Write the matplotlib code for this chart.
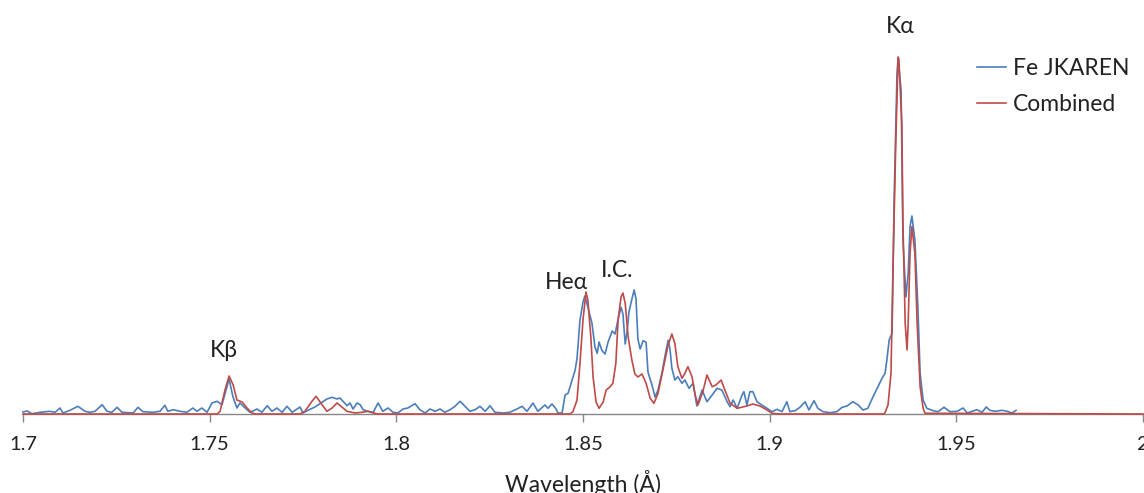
import matplotlib
matplotlib.use("Agg")
import matplotlib.pyplot as plt

plt.rcParams['font.family'] = ['Lato', 'Open Sans', 'DejaVu Sans']

# Fe JKAREN measured spectrum (wavelength in Å, intensity in arbitrary units)
fe_wavelength = [
    1.7000, 1.7011, 1.7024, 1.7046, 1.7072, 1.7086, 1.7099, 1.7107, 1.7126, 1.7147,
    1.7166, 1.7179, 1.7193, 1.7212, 1.7225, 1.7238, 1.7252, 1.7265, 1.7295, 1.7308,
    1.7321, 1.7348, 1.7367, 1.7380, 1.7388, 1.7402, 1.7421, 1.7439, 1.7455, 1.7466,
    1.7479, 1.7493, 1.7506, 1.7520, 1.7533, 1.7544, 1.7552, 1.7562, 1.7573, 1.7581,
    1.7595, 1.7608, 1.7627, 1.7640, 1.7654, 1.7667, 1.7680, 1.7694, 1.7707, 1.7721,
    1.7742, 1.7750, 1.7763, 1.7782, 1.7801, 1.7814, 1.7828, 1.7841, 1.7849, 1.7857,
    1.7868, 1.7876, 1.7884, 1.7895, 1.7903, 1.7911, 1.7924, 1.7938, 1.7951, 1.7964,
    1.7978, 1.7991, 1.8004, 1.8018, 1.8031, 1.8050, 1.8063, 1.8077, 1.8090, 1.8104,
    1.8117, 1.8130, 1.8144, 1.8157, 1.8171, 1.8184, 1.8197, 1.8211, 1.8224, 1.8238,
    1.8251, 1.8264, 1.8286, 1.8304, 1.8323, 1.8337, 1.8350, 1.8366, 1.8379, 1.8398,
    1.8406, 1.8417, 1.8428, 1.8433, 1.8444, 1.8452, 1.8460, 1.8471, 1.8479, 1.8484,
    1.8492, 1.8500, 1.8505, 1.8513, 1.8524, 1.8532, 1.8538, 1.8543, 1.8551, 1.8559,
    1.8567, 1.8578, 1.8586, 1.8594, 1.8602, 1.8607, 1.8613, 1.8618, 1.8623, 1.8631,
    1.8637, 1.8642, 1.8647, 1.8653, 1.8661, 1.8669, 1.8674, 1.8685, 1.8693, 1.8701,
    1.8712, 1.8720, 1.8728, 1.8733, 1.8738, 1.8746, 1.8754, 1.8765, 1.8773, 1.8784,
    1.8795, 1.8805, 1.8819, 1.8832, 1.8846, 1.8859, 1.8872, 1.8886, 1.8894, 1.8902,
    1.8913, 1.8926, 1.8931, 1.8939, 1.8947, 1.8955, 1.8966, 1.8979, 1.8993, 1.9006,
    1.9020, 1.9033, 1.9046, 1.9054, 1.9068, 1.9081, 1.9095, 1.9105, 1.9119, 1.9129,
    1.9143, 1.9162, 1.9180, 1.9194, 1.9207, 1.9223, 1.9237, 1.9250, 1.9263, 1.9277,
    1.9290, 1.9301, 1.9309, 1.9314, 1.9320, 1.9328, 1.9333, 1.9341, 1.9344, 1.9352,
    1.9357, 1.9365, 1.9371, 1.9376, 1.9381, 1.9389, 1.9397, 1.9403, 1.9411, 1.9421,
    1.9438, 1.9451, 1.9467, 1.9483, 1.9502, 1.9518, 1.9529, 1.9542, 1.9555, 1.9569,
    1.9580, 1.9590, 1.9604, 1.9622, 1.9636, 1.9649, 1.9660,
]
fe_intensity = [
    2.0, 3.0, 0.3, 1.7, 2.7, 1.7, 6.0, 1.0, 3.7, 7.7,
    2.7, 1.7, 2.7, 9.3, 2.7, 1.7, 6.7, 1.7, 1.0, 6.7,
    2.3, 1.7, 2.7, 8.7, 2.7, 4.3, 2.7, 1.7, 6.0, 2.7,
    6.0, 1.7, 11.0, 12.7, 9.3, 24.0, 35.0, 17.7, 6.0, 11.0,
    6.0, 1.7, 5.0, 1.7, 8.3, 2.7, 6.0, 1.7, 7.7, 1.7,
    7.0, 1.0, 3.7, 7.0, 11.7, 15.0, 16.7, 15.0, 16.0, 12.7,
    8.3, 11.0, 5.0, 11.0, 9.3, 4.3, 2.7, 1.7, 11.0, 2.7,
    6.0, 1.7, 1.0, 5.0, 6.0, 10.3, 4.3, 1.0, 5.0, 2.7,
    5.0, 1.7, 4.3, 7.7, 12.7, 7.7, 2.7, 4.3, 7.7, 2.7,
    8.3, 1.7, 1.0, 1.7, 5.0, 7.7, 2.7, 11.0, 2.7, 9.0,
    5.7, 10.0, 5.0, 1.0, 1.0, 19.0, 20.7, 34.0, 44.0, 55.7,
    94.0, 112.0, 118.0, 107.0, 90.7, 67.0, 60.7, 72.0, 63.3, 60.0,
    71.7, 83.0, 80.0, 95.0, 106.7, 100.0, 70.0, 82.0, 102.0, 115.0,
    124.0, 115.0, 75.0, 65.0, 73.3, 71.7, 42.0, 28.7, 17.0, 24.0,
    42.0, 58.7, 73.7, 65.0, 46.0, 34.0, 37.3, 30.7, 34.0, 25.7,
    30.7, 8.0, 24.0, 12.3, 19.0, 25.7, 24.0, 12.3, 7.3, 14.0,
    5.7, 19.0, 22.3, 9.0, 22.3, 22.3, 12.3, 9.0, 5.7, 2.3,
    4.7, 2.3, 12.3, 2.3, 3.3, 6.7, 12.3, 4.0, 13.3, 5.7,
    2.3, 1.3, 2.3, 6.7, 8.0, 12.3, 9.0, 4.0, 5.7, 17.3,
    27.3, 35.7, 40.7, 54.0, 74.0, 80.7, 207.0, 340.0, 356.0, 324.0,
    174.0, 117.0, 140.7, 187.3, 198.0, 174.0, 107.0, 40.7, 14.0, 5.7,
    3.3, 2.3, 6.7, 2.3, 2.7, 6.0, 1.0, 2.7, 4.3, 1.7,
    7.0, 3.7, 2.7, 3.7, 2.7, 1.0, 3.7,
]

# Combined model spectrum
combined_wavelength = [
    1.7000, 1.7520, 1.7528, 1.7541, 1.7552, 1.7563, 1.7573, 1.7587, 1.7600, 1.7613,
    1.7624, 1.7742, 1.7755, 1.7774, 1.7785, 1.7801, 1.7814, 1.7828, 1.7841, 1.7854,
    1.7868, 1.7889, 1.7908, 1.7924, 1.7938, 1.7951, 1.8465, 1.8473, 1.8484, 1.8492,
    1.8500, 1.8508, 1.8513, 1.8521, 1.8527, 1.8535, 1.8543, 1.8554, 1.8562, 1.8572,
    1.8580, 1.8588, 1.8594, 1.8602, 1.8607, 1.8613, 1.8621, 1.8631, 1.8639, 1.8647,
    1.8658, 1.8669, 1.8680, 1.8690, 1.8701, 1.8714, 1.8728, 1.8738, 1.8746, 1.8754,
    1.8765, 1.8773, 1.8781, 1.8792, 1.8800, 1.8808, 1.8821, 1.8832, 1.8846, 1.8856,
    1.8870, 1.8880, 1.8894, 1.8913, 1.8939, 1.8955, 1.8974, 1.8993, 1.9006, 1.9028,
    1.9306, 1.9309, 1.9317, 1.9325, 1.9330, 1.9338, 1.9344, 1.9346, 1.9354, 1.9357,
    1.9363, 1.9368, 1.9371, 1.9376, 1.9381, 1.9389, 1.9395, 1.9403, 1.9411, 1.9416,
    2.0000,
]
combined_intensity = [
    0.0, 0.0, 2.7, 24.0, 38.0, 29.0, 14.0, 12.0, 6.0, 1.0,
    0.0, 0.0, 2.7, 12.7, 17.7, 9.3, 2.7, 6.0, 11.0, 7.0,
    2.7, 1.0, 1.7, 2.7, 1.0, 0.0, 0.0, 2.3, 14.0, 51.0,
    94.0, 122.0, 114.0, 77.0, 37.0, 12.0, 5.7, 12.0, 24.0, 27.0,
    30.7, 50.7, 94.0, 117.3, 121.0, 110.7, 77.0, 53.7, 40.0, 37.0,
    40.0, 30.7, 15.7, 10.7, 20.7, 44.0, 69.0, 80.0, 70.7, 47.3,
    35.7, 40.7, 47.3, 37.3, 19.7, 9.0, 22.3, 39.0, 27.3, 29.0,
    34.0, 24.0, 10.7, 5.7, 8.0, 10.0, 8.0, 4.0, 0.7, 0.0,
    0.0, 1.3, 9.0, 40.7, 140.7, 274.0, 357.0, 355.0, 291.0, 190.7,
    90.7, 64.0, 90.7, 160.7, 187.3, 160.7, 90.7, 27.3, 5.7, 0.7,
    0.0,
]

tick_values = [1.7, 1.75, 1.8, 1.85, 1.9, 1.95, 2.0]
tick_labels = ["1.7", "1.75", "1.8", "1.85", "1.9", "1.95", "2"]

# Line identifications: (label, wavelength, height of text baseline)
line_labels = ["Kβ", "Heα", "I.C.", "Kα"]
line_label_wl = [1.7538, 1.8456, 1.8591, 1.9349]
line_label_y = [57, 125, 137, 381]

blue = "#4A7EBB"
red = "#BE4B48"
axis_gray = "#868686"

fig = plt.figure(figsize=(11.44, 4.93), dpi=100)
ax = fig.add_axes([23 / 1144, 79 / 493, 1120 / 1144, 414 / 493])

ax.plot(fe_wavelength, fe_intensity, color=blue, lw=1.2, label="Fe JKAREN",
        clip_on=False, zorder=3)
ax.plot(combined_wavelength, combined_intensity, color=red, lw=1.2, label="Combined",
        clip_on=False, zorder=4)

ax.set_xlim(1.7, 2.0)
ax.set_ylim(0, 414)

for s in ("left", "right", "top"):
    ax.spines[s].set_visible(False)
ax.spines["bottom"].set_color(axis_gray)
ax.spines["bottom"].set_linewidth(1.0)
ax.set_yticks([])
ax.set_xticks(tick_values)
ax.set_xticklabels(tick_labels)
ax.tick_params(axis="x", direction="out", length=6, width=1.0, color=axis_gray,
               labelsize=14.5, labelcolor="#222222", pad=10)

ax.set_xlabel("Wavelength (Å)", fontsize=16.5, color="#222222", labelpad=12)

for txt, wl, yb in zip(line_labels, line_label_wl, line_label_y):
    ax.text(wl, yb, txt, ha="center", va="baseline", fontsize=16.5, color="#222222")

leg = ax.legend(loc="upper left", bbox_to_anchor=(977 / 1144, 1 - 58 / 493),
                bbox_transform=fig.transFigure, frameon=False, fontsize=16.5,
                handlelength=1.25, handletextpad=0.3, labelspacing=0.67,
                borderpad=0, borderaxespad=0)
for t in leg.get_texts():
    t.set_color("#222222")

fig.savefig("out.png", dpi=100)
